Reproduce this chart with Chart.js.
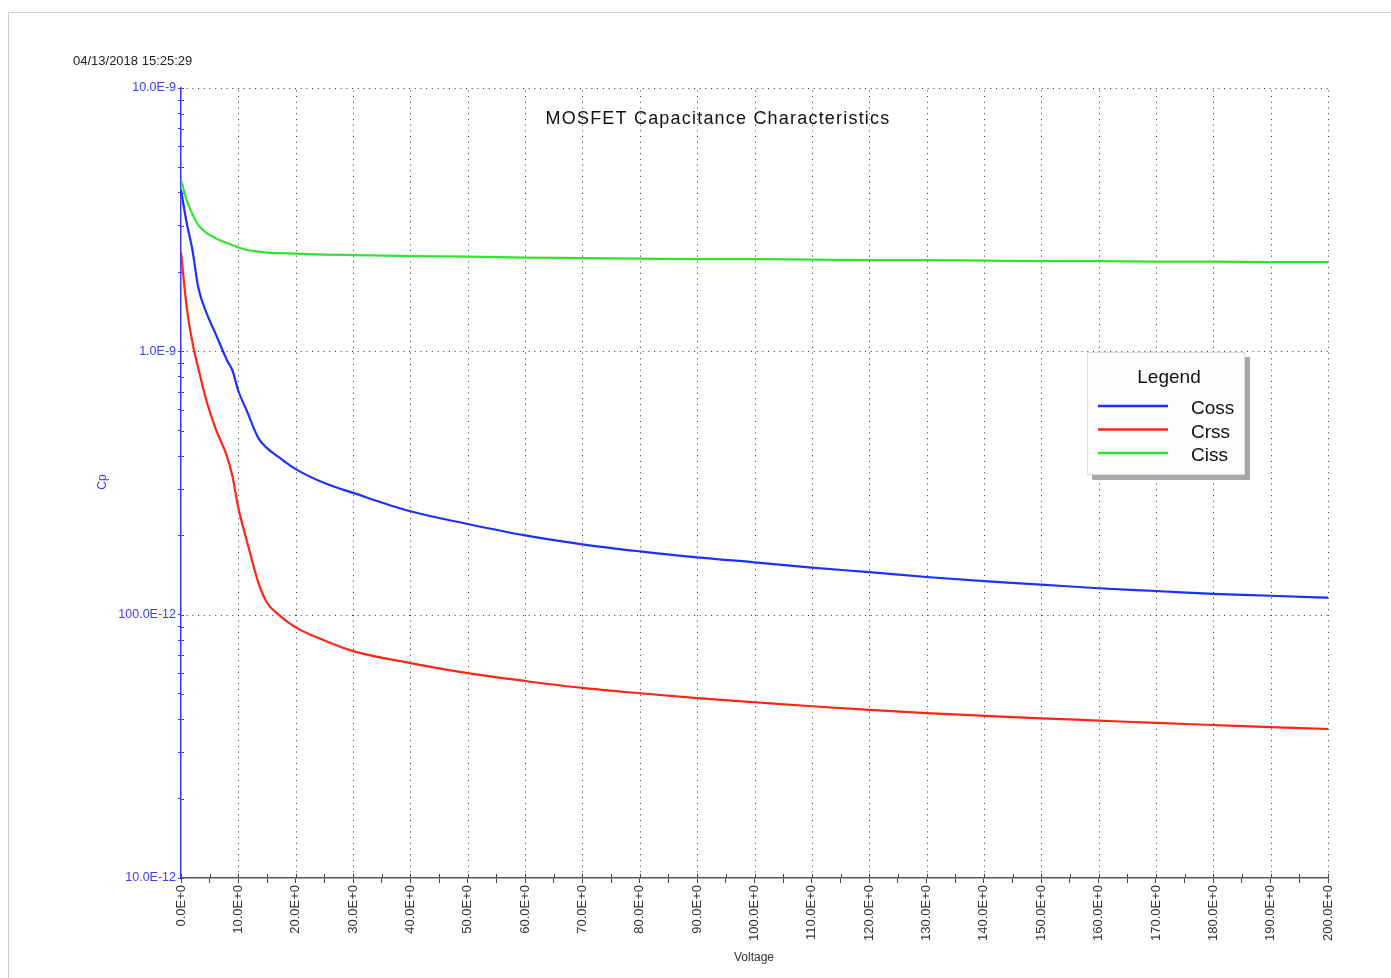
<!DOCTYPE html>
<html>
<head>
<meta charset="utf-8">
<script src="https://cdn.jsdelivr.net/npm/chart.js@4.4.1/dist/chart.umd.min.js"></script>
<style>
  body { margin: 0; background: #fff; }
  canvas { display: block; }
</style>
</head>
<body>
<canvas id="cap" width="1391" height="978"></canvas>
<script>
// values (V, F)
const voltage = [0, 1, 2, 3, 4.5, 6, 8, 9, 10, 11.5, 13.5, 15, 17, 20, 25, 30, 40, 50, 60, 70, 80, 90, 100, 110, 120, 130, 140, 150, 160, 170, 180, 190, 200];
const coss = [4.10e-9, 3.07e-9, 2.42e-9, 1.75e-9, 1.39e-9, 1.17e-9, 9.27e-10, 8.42e-10, 7.07e-10, 5.93e-10, 4.68e-10, 4.29e-10, 3.97e-10, 3.57e-10, 3.16e-10, 2.90e-10,
  2.47e-10, 2.21e-10, 2.0e-10, 1.85e-10, 1.74e-10, 1.65e-10, 1.58e-10, 1.51e-10, 1.45e-10, 1.39e-10, 1.34e-10, 1.30e-10, 1.26e-10, 1.23e-10, 1.20e-10, 1.18e-10, 1.16e-10];
const crss = [2.38e-9, 1.47e-9, 1.08e-9, 8.64e-10, 6.42e-10, 5.11e-10, 4.00e-10, 3.33e-10, 2.54e-10, 1.90e-10, 1.32e-10, 1.11e-10, 1.0e-10, 8.95e-11, 7.98e-11, 7.27e-11,
  6.55e-11, 6.0e-11, 5.6e-11, 5.27e-11, 5.03e-11, 4.82e-11, 4.65e-11, 4.49e-11, 4.35e-11, 4.23e-11, 4.13e-11, 4.04e-11, 3.96e-11, 3.88e-11, 3.81e-11, 3.74e-11, 3.68e-11];
const ciss = [4.47e-9, 3.75e-9, 3.32e-9, 3.02e-9, 2.81e-9, 2.69e-9, 2.58e-9, 2.53e-9, 2.48e-9, 2.43e-9, 2.39e-9, 2.37e-9, 2.36e-9, 2.35e-9, 2.33e-9, 2.32e-9,
  2.30e-9, 2.29e-9, 2.27e-9, 2.26e-9, 2.25e-9, 2.24e-9, 2.24e-9, 2.23e-9, 2.22e-9, 2.22e-9, 2.21e-9, 2.20e-9, 2.20e-9, 2.19e-9, 2.19e-9, 2.18e-9, 2.18e-9];

const seriesNames = ["Coss", "Crss", "Ciss"];
const seriesColors = ["#1c30ff", "#ff2414", "#2ee62e"];
const yDecades = [1e-11, 1e-10, 1e-9, 1e-8];
const yDecadeLabels = ["10.0E-12", "100.0E-12", "1.0E-9", "10.0E-9"];
const xMin = 0, xMax = 200, xMinorStep = 5, xMajorStep = 10;
const chartTitle = "MOSFET Capacitance Characteristics";
const timeStamp = "04/13/2018 15:25:29";

const FONT = "Arial, 'Liberation Sans', sans-serif";
const axisBlue = "#3a3aff";

function toPoints(arr) {
  return voltage.map((v, i) => ({ x: v, y: arr[i] }));
}

function isDecade(v) {
  const l = Math.log10(v);
  return Math.abs(l - Math.round(l)) < 1e-6;
}

// all log ticks: 1..9 x each decade
let yTickValues = [];
for (let i = 0; i < yDecades.length - 1; i++) {
  for (let k = 1; k < 10; k++) yTickValues.push(yDecades[i] * k);
}
yTickValues.push(yDecades[yDecades.length - 1]);

const decorations = {
  id: "decorations",
  beforeDraw(chart) {
    const ctx = chart.ctx;
    ctx.save();
    ctx.strokeStyle = "#d0d0d0";
    ctx.lineWidth = 1;
    ctx.strokeRect(8.5, 12.5, chart.width, chart.height);
    ctx.restore();
  },
  beforeDatasetsDraw(chart) {
    const ctx = chart.ctx;
    const a = chart.chartArea;
    const xs = chart.scales.x, ys = chart.scales.y;
    ctx.save();
    ctx.strokeStyle = "#333";
    ctx.lineWidth = 1;
    ctx.setLineDash([1, 4.7]);
    for (let v = xMin + xMajorStep; v <= xMax; v += xMajorStep) {
      const px = Math.round(xs.getPixelForValue(v)) + 0.5;
      ctx.beginPath(); ctx.moveTo(px, a.bottom); ctx.lineTo(px, a.top); ctx.stroke();
    }
    yDecades.forEach(d => {
      if (d === yDecades[0]) return;
      const py = Math.round(ys.getPixelForValue(d)) + 0.5;
      ctx.beginPath(); ctx.moveTo(a.left, py); ctx.lineTo(a.right, py); ctx.stroke();
    });
    ctx.setLineDash([]);
    // inner half of tick marks
    ctx.strokeStyle = axisBlue;
    yTickValues.forEach(v => {
      const py = Math.round(ys.getPixelForValue(v)) + 0.5;
      ctx.beginPath(); ctx.moveTo(a.left, py); ctx.lineTo(a.left + 3, py); ctx.stroke();
    });
    ctx.strokeStyle = "#444";
    for (let v = xMin; v <= xMax; v += xMinorStep) {
      const px = Math.round(xs.getPixelForValue(v)) + 0.5;
      ctx.beginPath(); ctx.moveTo(px, a.bottom); ctx.lineTo(px, a.bottom - 4); ctx.stroke();
    }
    ctx.restore();
  },
  afterDraw(chart) {
    const ctx = chart.ctx;
    ctx.save();
    // timestamp
    ctx.fillStyle = "#222";
    ctx.font = "13px " + FONT;
    ctx.textAlign = "left";
    ctx.textBaseline = "alphabetic";
    ctx.fillText(timeStamp, 73, 65);
    // title inside plot
    ctx.fillStyle = "#111";
    ctx.font = "18px " + FONT;
    ctx.textAlign = "center";
    ctx.letterSpacing = "1.2px";
    ctx.fillText(chartTitle, 718, 124);
    ctx.letterSpacing = "0px";
    // axis titles
    ctx.font = "12px " + FONT;
    ctx.fillStyle = "#333";
    ctx.fillText("Voltage", 754, 961);
    ctx.save();
    ctx.translate(106, 482);
    ctx.rotate(-Math.PI / 2);
    ctx.fillStyle = axisBlue;
    ctx.fillText("Cp", 0, 0);
    ctx.restore();
    // legend box
    const lx = 1087, ly = 352, lw = 158, lh = 123;
    ctx.fillStyle = "#a8a8a8";
    ctx.fillRect(lx + 5, ly + 5, lw, lh);
    ctx.fillStyle = "#fcfcfc";
    ctx.fillRect(lx, ly, lw, lh);
    ctx.strokeStyle = "#dcdcdc";
    ctx.lineWidth = 1;
    ctx.strokeRect(lx + 0.5, ly + 0.5, lw - 1, lh - 1);
    ctx.fillStyle = "#111";
    ctx.font = "19px " + FONT;
    ctx.textAlign = "center";
    ctx.fillText("Legend", 1169, 383);
    ctx.textAlign = "left";
    seriesNames.forEach((name, i) => {
      const y = 406 + i * 23.5;
      ctx.strokeStyle = seriesColors[i];
      ctx.lineWidth = 2.5;
      ctx.beginPath(); ctx.moveTo(1098, y); ctx.lineTo(1168, y); ctx.stroke();
      ctx.fillStyle = "#111";
      ctx.fillText(name, 1191, y + 8);
    });
    ctx.restore();
  }
};

new Chart(document.getElementById("cap"), {
  type: "line",
  data: {
    datasets: seriesNames.map((name, i) => ({
      label: name,
      data: toPoints([coss, crss, ciss][i]),
      borderColor: seriesColors[i],
      borderWidth: 2.2,
      pointRadius: 0,
      fill: false,
      cubicInterpolationMode: "monotone"
    }))
  },
  options: {
    responsive: false,
    animation: false,
    events: [],
    layout: { padding: { left: 0, right: 63, top: 88, bottom: 0 } },
    plugins: { legend: { display: false }, title: { display: false }, tooltip: { enabled: false } },
    scales: {
      x: {
        type: "linear",
        min: xMin,
        max: xMax,
        afterFit(s) { s.height = 100; },
        grid: { drawOnChartArea: false, drawTicks: true, tickLength: 5, color: "#444" },
        border: { color: "#555", width: 1.5 },
        ticks: {
          stepSize: xMinorStep,
          autoSkip: false,
          minRotation: 90,
          maxRotation: 90,
          padding: 2,
          color: "#333",
          font: { family: FONT, size: 13 },
          callback: v => (v % xMajorStep === 0 ? v.toFixed(1) + "E+0" : "")
        }
      },
      y: {
        type: "logarithmic",
        min: yDecades[0],
        max: yDecades[yDecades.length - 1],
        afterFit(s) { s.width = 181; },
        afterBuildTicks(s) { s.ticks = yTickValues.map(v => ({ value: v })); },
        grid: { drawOnChartArea: false, drawTicks: true, tickLength: 3, color: axisBlue },
        border: { color: axisBlue, width: 1.5 },
        ticks: {
          autoSkip: false,
          padding: 2,
          color: axisBlue,
          font: { family: FONT, size: 12.5 },
          callback: v => {
            if (!isDecade(v)) return "";
            const idx = yDecades.findIndex(d => Math.abs(Math.log10(d) - Math.log10(v)) < 1e-6);
            return yDecadeLabels[idx];
          }
        }
      }
    }
  },
  plugins: [decorations]
});
</script>
</body>
</html>
